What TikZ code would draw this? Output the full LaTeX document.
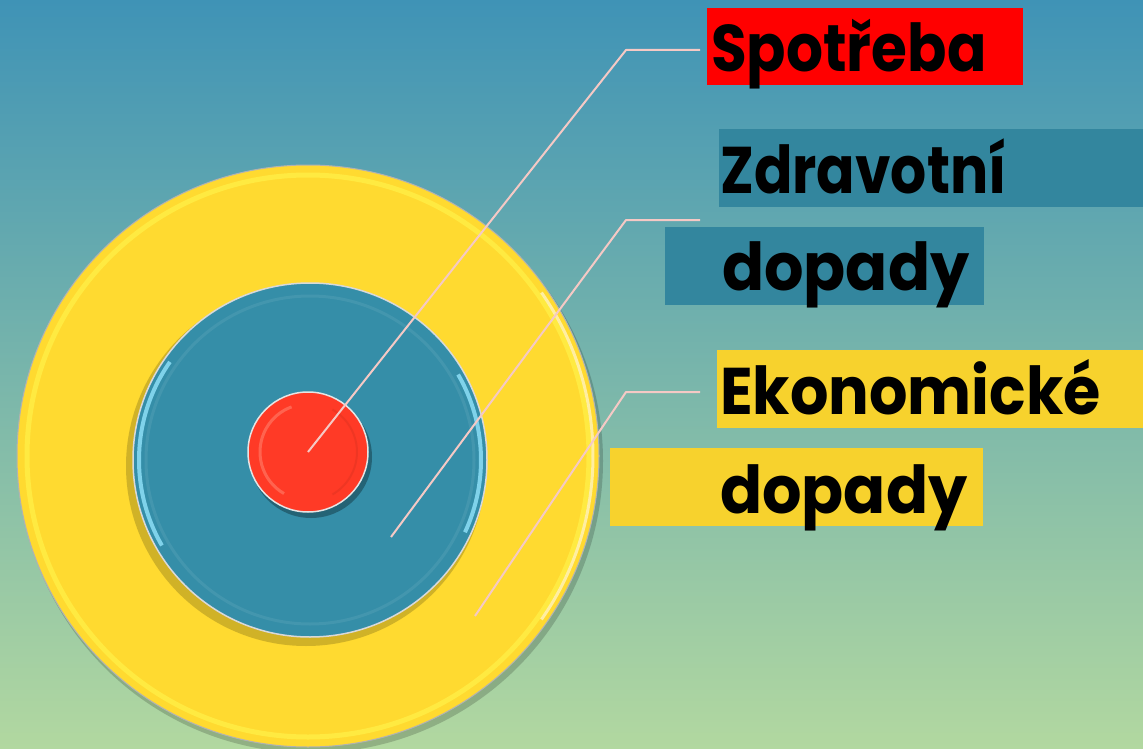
\documentclass[tikz,border=0pt]{standalone}
\usepackage{fontspec}
\setmainfont{Poppins}
\definecolor{bgtop}{RGB}{63,147,182}
\definecolor{bgmid}{RGB}{112,178,170}
\definecolor{bgbot}{RGB}{178,216,160}
\definecolor{ylw}{RGB}{255,218,48}
\definecolor{ylwlight}{RGB}{255,238,70}
\definecolor{blu}{RGB}{53,142,168}
\definecolor{blulight}{RGB}{140,222,246}
\definecolor{rd}{RGB}{255,58,38}
\definecolor{rdlight}{RGB}{255,110,90}
\definecolor{connc}{RGB}{245,201,197}
\definecolor{boxred}{RGB}{255,0,0}
\definecolor{boxteal}{RGB}{51,134,158}
\definecolor{boxylw}{RGB}{247,210,45}
\begin{document}
\begin{tikzpicture}[x=1pt,y=-1pt,line join=round,
  disc/.style={circle,inner sep=0pt,draw=none},
  lbl/.style={anchor=base west,inner sep=0pt,text=black,font=\bfseries\fontsize{66}{70}\selectfont},
  lblbox/.style={rectangle,inner sep=0pt,anchor=north west,draw=none},
  conn/.style={draw=connc,line width=2pt}]
\useasboundingbox (0,0) rectangle (1143,749);
\shade[top color=bgtop,middle color=bgmid,bottom color=bgbot] (0,0) rectangle (1143,749);
% outer yellow disc
\fill[black,opacity=0.18] (311,461) circle (292);
\node[disc,fill=ylw,minimum size=582pt,draw=gray!60,line width=1pt] (yellow) at (308,456) {};
\draw[ylwlight,line width=5pt,opacity=0.8] (yellow.center) circle (281);
\draw[white,line width=3pt,opacity=0.55] (yellow.center) ++(-35:285) arc(-35:35:285);
% blue disc
\fill[black!60!ylw,opacity=0.3] (306,466) circle (180);
\node[disc,fill=blu,minimum size=354pt,draw=gray!30,line width=1.5pt] (blue) at (310,460) {};
\draw[blu!88!white,line width=3pt,opacity=0.6] (blue.center) circle (164);
\draw[blulight,line width=4pt,opacity=0.85] (blue.center) ++(150:171) arc(150:215:171);
\draw[blulight,line width=4pt,opacity=0.85] (blue.center) ++(-30:171) arc(-30:25:171);
% red disc
\fill[black,opacity=0.3] (311,457) circle (61);
\node[disc,fill=rd,minimum size=120pt,draw=gray!20,line width=1.5pt] (red) at (308,452) {};
\draw[rdlight,line width=3pt,opacity=0.8] (red.center) ++(120:48) arc(120:250:48);
\draw[rd!85!black,line width=2pt,opacity=0.4] (red.center) ++(-60:49) arc(-60:60:49);
% label boxes
\node[lblbox,fill=boxred,minimum width=316pt,minimum height=77pt] (b1) at (707,8) {};
\node[lblbox,fill=boxteal,minimum width=424pt,minimum height=78pt] (b2) at (719,129) {};
\node[lblbox,fill=boxteal,minimum width=319pt,minimum height=78pt] (b3) at (665,227) {};
\node[lblbox,fill=boxylw,minimum width=426pt,minimum height=78pt] (b4) at (717,350) {};
\node[lblbox,fill=boxylw,minimum width=373pt,minimum height=78pt] (b5) at (610,448) {};
% label texts
\node[lbl] (t1) at (711,72) {\scalebox{0.88}[1]{Spotřeba}};
\node[lbl] (t2) at (720,193) {\scalebox{0.86}[1]{Zdravotní}};
\node[lbl] (t3) at (722,290) {\scalebox{0.94}[1]{dopady}};
\node[lbl] (t4) at (720,414) {\scalebox{0.915}[1]{Ekonomické}};
\node[lbl] (t5) at (720,513) {\scalebox{0.94}[1]{dopady}};
% connectors
\coordinate (k1) at (626,50);  \coordinate (e1) at (700,50);
\coordinate (s2) at (391,537); \coordinate (k2) at (626,220); \coordinate (e2) at (700,220);
\coordinate (s3) at (475,616); \coordinate (k3) at (626,392); \coordinate (e3) at (700,392);
\draw[conn] (red.center) -- (k1) -- (e1);
\draw[conn] (s2) -- (k2) -- (e2);
\draw[conn] (s3) -- (k3) -- (e3);
\end{tikzpicture}
\end{document}
